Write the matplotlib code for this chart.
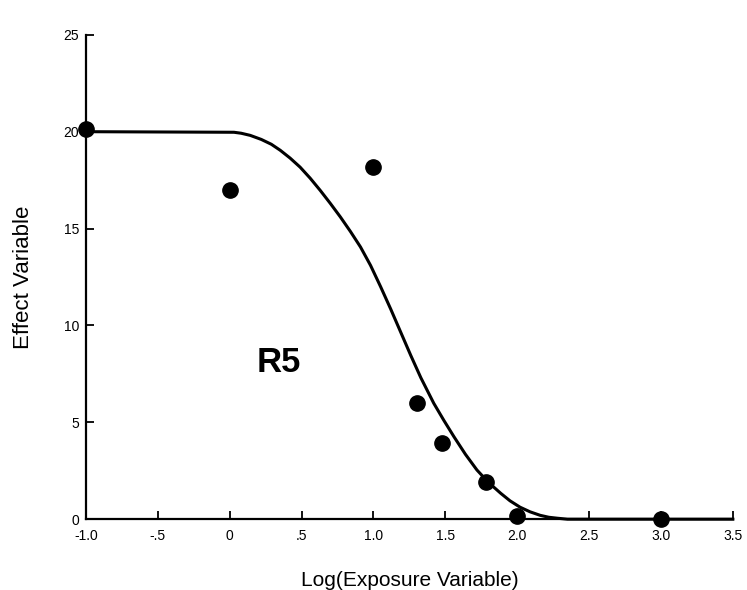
import matplotlib
matplotlib.use('Agg')
from matplotlib import pyplot as plt

# observed data
log_exposure = [-1.0, 0.0, 1.0, 1.3, 1.48, 1.78, 2.0, 3.0]
effect = [20.15, 17.0, 18.2, 6.0, 3.92, 1.9, 0.19, 0.03]

# fitted curve
curve_x = [-1.0, 0.03, 0.08, 0.143, 0.22, 0.29, 0.352, 0.42, 0.49, 0.56, 0.63,
           0.7, 0.77, 0.84, 0.91, 0.98, 1.05, 1.12, 1.19, 1.26, 1.33, 1.42,
           1.49, 1.56, 1.64, 1.72, 1.8, 1.885, 1.95, 2.02, 2.09, 2.16, 2.22,
           2.28, 2.35, 3.5]
curve_y = [20.0, 19.97, 19.92, 19.81, 19.6, 19.35, 19.04, 18.64, 18.17, 17.6,
           16.97, 16.3, 15.6, 14.85, 14.05, 13.1, 12.0, 10.85, 9.65, 8.45,
           7.3, 5.98, 5.1, 4.26, 3.35, 2.54, 1.9, 1.34, 0.95, 0.62, 0.38, 0.2,
           0.1, 0.05, 0.0, 0.0]

x_ticks = [-1.0, -0.5, 0.0, 0.5, 1.0, 1.5, 2.0, 2.5, 3.0, 3.5]
x_tick_labels = ['-1.0', '-.5', '0', '.5', '1.0', '1.5', '2.0', '2.5', '3.0', '3.5']
y_ticks = [0, 5, 10, 15, 20, 25]

plt.rcParams['font.family'] = ['Liberation Sans', 'DejaVu Sans']

fig = plt.figure(figsize=(7.47, 5.9), dpi=100)
ax = fig.add_axes([0.115, 0.12, 0.866, 0.821])

ax.plot(curve_x, curve_y, color='black', linewidth=2.2, clip_on=False)
ax.plot(log_exposure, effect, 'o', color='black', markersize=11, clip_on=False)

ax.text(0.34, 8.1, 'R5', fontsize=25, fontweight='bold', ha='center', va='center')

ax.set_xlim(-1.0, 3.5)
ax.set_ylim(0, 25)
ax.set_xticks(x_ticks)
ax.set_xticklabels(x_tick_labels)
ax.set_yticks(y_ticks)
ax.tick_params(direction='in', length=6, width=1.3, labelsize=10, pad=5)
ax.tick_params(axis='x', pad=7)

for side in ['top', 'right']:
    ax.spines[side].set_visible(False)
for side in ['left', 'bottom']:
    ax.spines[side].set_linewidth(1.6)

ax.set_xlabel('Log(Exposure Variable)', fontsize=15, labelpad=20)
ax.set_ylabel('Effect Variable', fontsize=16, labelpad=21)

plt.savefig('out.png', dpi=100)
